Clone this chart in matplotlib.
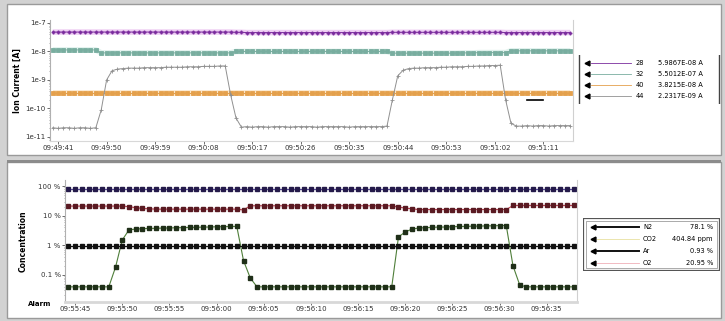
import matplotlib.pyplot as plt
from matplotlib.patches import Rectangle

# ---- top panel: ion currents (A), one point per sample ----
top_times = ["09:49:41", "09:49:50", "09:49:59", "09:50:08", "09:50:17", "09:50:26",
             "09:50:35", "09:50:44", "09:50:53", "09:51:02", "09:51:11"]

mass28 = [
    4.8e-8, 4.8e-8, 4.8e-8, 4.8e-8, 4.8e-8, 4.8e-8, 4.8e-8, 4.8e-8, 4.8e-8, 4.8e-8,
    4.8e-8, 4.8e-8, 4.8e-8, 4.8e-8, 4.8e-8, 4.8e-8, 4.8e-8, 4.8e-8, 4.8e-8, 4.8e-8,
    4.8e-8, 4.8e-8, 4.8e-8, 4.8e-8, 4.8e-8, 4.8e-8, 4.8e-8, 4.8e-8, 4.8e-8, 4.8e-8,
    4.8e-8, 4.8e-8, 4.8e-8, 4.8e-8, 4.7e-8, 4.7e-8, 4.6e-8, 4.6e-8, 4.6e-8, 4.6e-8,
    4.6e-8, 4.6e-8, 4.6e-8, 4.6e-8, 4.6e-8, 4.6e-8, 4.6e-8, 4.6e-8, 4.6e-8, 4.6e-8,
    4.6e-8, 4.6e-8, 4.6e-8, 4.6e-8, 4.6e-8, 4.6e-8, 4.6e-8, 4.6e-8, 4.6e-8, 4.6e-8,
    4.6e-8, 4.6e-8, 4.6e-8, 4.7e-8, 4.7e-8, 4.7e-8, 4.7e-8, 4.7e-8, 4.7e-8, 4.7e-8,
    4.7e-8, 4.7e-8, 4.7e-8, 4.7e-8, 4.7e-8, 4.7e-8, 4.7e-8, 4.7e-8, 4.7e-8, 4.7e-8,
    4.7e-8, 4.7e-8, 4.7e-8, 4.7e-8, 4.6e-8, 4.6e-8, 4.6e-8, 4.6e-8, 4.6e-8, 4.6e-8,
    4.6e-8, 4.6e-8, 4.6e-8, 4.6e-8, 4.6e-8, 4.6e-8, 4.6e-8]

mass32 = [
    1.13e-8, 1.13e-8, 1.13e-8, 1.13e-8, 1.13e-8, 1.13e-8, 1.13e-8, 1.13e-8, 1.13e-8, 8.9e-9,
    8.9e-9, 8.9e-9, 8.9e-9, 8.9e-9, 8.9e-9, 8.9e-9, 8.9e-9, 8.9e-9, 8.9e-9, 8.9e-9,
    8.9e-9, 8.9e-9, 8.9e-9, 8.9e-9, 8.9e-9, 8.9e-9, 8.9e-9, 8.9e-9, 8.9e-9, 8.9e-9,
    8.9e-9, 8.9e-9, 8.9e-9, 8.9e-9, 1.0e-8, 1.0e-8, 1.0e-8, 1.0e-8, 1.0e-8, 1.0e-8,
    1.0e-8, 1.0e-8, 1.0e-8, 1.0e-8, 1.0e-8, 1.0e-8, 1.0e-8, 1.0e-8, 1.0e-8, 1.0e-8,
    1.0e-8, 1.0e-8, 1.0e-8, 1.0e-8, 1.0e-8, 1.0e-8, 1.0e-8, 1.0e-8, 1.0e-8, 1.0e-8,
    1.0e-8, 1.0e-8, 1.0e-8, 8.7e-9, 8.7e-9, 8.7e-9, 8.7e-9, 8.7e-9, 8.7e-9, 8.7e-9,
    8.7e-9, 8.7e-9, 8.7e-9, 8.7e-9, 8.7e-9, 8.7e-9, 8.9e-9, 8.9e-9, 8.9e-9, 9.1e-9,
    9.1e-9, 9.1e-9, 9.1e-9, 9.1e-9, 9.1e-9, 1.05e-8, 1.05e-8, 1.05e-8, 1.05e-8, 1.05e-8,
    1.05e-8, 1.05e-8, 1.05e-8, 1.05e-8, 1.05e-8, 1.05e-8, 1.05e-8]

mass40 = [
    3.5e-10, 3.5e-10, 3.5e-10, 3.5e-10, 3.5e-10, 3.5e-10, 3.5e-10, 3.5e-10, 3.5e-10, 3.5e-10,
    3.5e-10, 3.5e-10, 3.5e-10, 3.5e-10, 3.5e-10, 3.5e-10, 3.5e-10, 3.5e-10, 3.5e-10, 3.5e-10,
    3.5e-10, 3.5e-10, 3.5e-10, 3.5e-10, 3.5e-10, 3.5e-10, 3.5e-10, 3.5e-10, 3.5e-10, 3.5e-10,
    3.5e-10, 3.5e-10, 3.5e-10, 3.5e-10, 3.5e-10, 3.5e-10, 3.5e-10, 3.5e-10, 3.5e-10, 3.5e-10,
    3.5e-10, 3.5e-10, 3.5e-10, 3.5e-10, 3.5e-10, 3.5e-10, 3.5e-10, 3.5e-10, 3.5e-10, 3.5e-10,
    3.5e-10, 3.5e-10, 3.5e-10, 3.5e-10, 3.5e-10, 3.5e-10, 3.5e-10, 3.5e-10, 3.5e-10, 3.5e-10,
    3.5e-10, 3.5e-10, 3.5e-10, 3.5e-10, 3.5e-10, 3.5e-10, 3.5e-10, 3.5e-10, 3.5e-10, 3.5e-10,
    3.5e-10, 3.5e-10, 3.5e-10, 3.5e-10, 3.5e-10, 3.5e-10, 3.5e-10, 3.5e-10, 3.5e-10, 3.5e-10,
    3.5e-10, 3.5e-10, 3.5e-10, 3.5e-10, 3.5e-10, 3.5e-10, 3.5e-10, 3.5e-10, 3.5e-10, 3.5e-10,
    3.5e-10, 3.5e-10, 3.5e-10, 3.5e-10, 3.5e-10, 3.5e-10, 3.5e-10]

mass44 = [
    2.1e-11, 2.0e-11, 2.1e-11, 2.1e-11, 2.0e-11, 2.1e-11, 2.1e-11, 2.0e-11, 2.1e-11, 8.9e-11,
    1.0e-9, 2.1e-9, 2.4e-9, 2.5e-9, 2.6e-9, 2.6e-9, 2.6e-9, 2.7e-9, 2.7e-9, 2.7e-9,
    2.7e-9, 2.8e-9, 2.8e-9, 2.8e-9, 2.8e-9, 2.9e-9, 2.9e-9, 2.9e-9, 3.0e-9, 3.0e-9,
    3.0e-9, 3.1e-9, 3.1e-9, 3.0e-10, 4.6e-11, 2.2e-11, 2.3e-11, 2.2e-11, 2.3e-11, 2.3e-11,
    2.2e-11, 2.3e-11, 2.3e-11, 2.3e-11, 2.2e-11, 2.3e-11, 2.3e-11, 2.3e-11, 2.3e-11, 2.2e-11,
    2.3e-11, 2.3e-11, 2.3e-11, 2.3e-11, 2.3e-11, 2.2e-11, 2.3e-11, 2.3e-11, 2.3e-11, 2.3e-11,
    2.3e-11, 2.3e-11, 2.4e-11, 2.0e-10, 1.4e-9, 2.2e-9, 2.5e-9, 2.6e-9, 2.6e-9, 2.7e-9,
    2.7e-9, 2.7e-9, 2.8e-9, 2.8e-9, 2.9e-9, 2.9e-9, 2.9e-9, 3.0e-9, 3.0e-9, 3.1e-9,
    3.1e-9, 3.2e-9, 3.2e-9, 3.3e-9, 2.0e-10, 3.0e-11, 2.4e-11, 2.4e-11, 2.5e-11, 2.4e-11,
    2.5e-11, 2.5e-11, 2.4e-11, 2.5e-11, 2.5e-11, 2.5e-11, 2.5e-11]

cursor_x = [88, 91]
cursor_y = [2.0e-10, 2.0e-10]

top_legend = [("28", "5.9867E-08 A"), ("32", "5.5012E-07 A"),
              ("40", "3.8215E-08 A"), ("44", "2.2317E-09 A")]

# ---- bottom panel: concentrations (%) ----
bot_times = ["09:55:45", "09:55:50", "09:55:55", "09:56:00", "09:56:05", "09:56:10",
             "09:56:15", "09:56:20", "09:56:25", "09:56:30", "09:56:35"]

n2 = [
    78.1, 78.1, 78.1, 78.1, 78.1, 78.1, 78.1, 78.1, 78.1, 78.1,
    78.1, 78.1, 78.1, 78.1, 78.1, 78.1, 78.1, 78.1, 78.1, 78.1,
    78.1, 78.1, 78.1, 78.1, 78.1, 78.1, 78.1, 78.1, 78.1, 78.1,
    78.1, 78.1, 78.1, 78.1, 78.1, 78.1, 78.1, 78.1, 78.1, 78.1,
    78.1, 78.1, 78.1, 78.1, 78.1, 78.1, 78.1, 78.1, 78.1, 78.1,
    78.1, 78.1, 78.1, 78.1, 78.1, 78.1, 78.1, 78.1, 78.1, 78.1,
    78.1, 78.1, 78.1, 78.1, 78.1, 78.1, 78.1, 78.1, 78.1, 78.1,
    78.1, 78.1, 78.1, 78.1, 78.1, 78.1]

o2 = [
    21.0, 21.0, 21.0, 21.0, 21.0, 21.0, 21.0, 21.0, 21.0, 20.0,
    18.5, 17.5, 17.0, 16.5, 16.5, 16.5, 16.5, 16.5, 16.5, 16.5,
    16.5, 16.5, 16.5, 16.5, 16.5, 16.5, 15.5, 21.5, 21.5, 21.5,
    21.5, 21.5, 21.5, 21.5, 21.5, 21.5, 21.5, 21.5, 21.5, 21.5,
    21.5, 21.5, 21.5, 21.5, 21.5, 21.5, 21.5, 21.5, 21.5, 19.5,
    18.0, 17.0, 16.0, 16.0, 16.0, 16.0, 16.0, 16.0, 16.0, 16.0,
    16.0, 16.0, 16.0, 16.0, 16.0, 16.0, 22.0, 22.0, 22.0, 22.0,
    22.0, 22.0, 22.0, 22.0, 22.0, 22.0]

co2 = [
    0.039, 0.039, 0.039, 0.039, 0.039, 0.039, 0.039, 0.18, 1.5, 3.3,
    3.5, 3.6, 3.7, 3.7, 3.8, 3.8, 3.9, 3.9, 4.0, 4.0,
    4.1, 4.1, 4.2, 4.2, 4.3, 4.3, 0.3, 0.078, 0.039, 0.039,
    0.039, 0.039, 0.039, 0.039, 0.039, 0.039, 0.039, 0.039, 0.039, 0.039,
    0.039, 0.039, 0.039, 0.039, 0.039, 0.039, 0.039, 0.039, 0.039, 1.9,
    2.8, 3.5, 3.8, 3.9, 4.0, 4.1, 4.1, 4.2, 4.3, 4.3,
    4.4, 4.4, 4.5, 4.5, 4.6, 4.6, 0.2, 0.045, 0.039, 0.039,
    0.039, 0.039, 0.039, 0.039, 0.039, 0.039]

ar = [
    0.93, 0.93, 0.93, 0.93, 0.93, 0.93, 0.93, 0.93, 0.93, 0.93,
    0.93, 0.93, 0.93, 0.93, 0.93, 0.93, 0.93, 0.93, 0.93, 0.93,
    0.93, 0.93, 0.93, 0.93, 0.93, 0.93, 0.93, 0.93, 0.93, 0.93,
    0.93, 0.93, 0.93, 0.93, 0.93, 0.93, 0.93, 0.93, 0.93, 0.93,
    0.93, 0.93, 0.93, 0.93, 0.93, 0.93, 0.93, 0.93, 0.93, 0.93,
    0.93, 0.93, 0.93, 0.93, 0.93, 0.93, 0.93, 0.93, 0.93, 0.93,
    0.93, 0.93, 0.93, 0.93, 0.93, 0.93, 0.93, 0.93, 0.93, 0.93,
    0.93, 0.93, 0.93, 0.93, 0.93, 0.93]

bot_legend = [("N2", "78.1 %"), ("CO2", "404.84 ppm"), ("Ar", "0.93 %"), ("O2", "20.95 %")]

W, H = 725, 321


def fbox(x0, y0, x1, y1):
    # pixel box (top-left origin) -> figure fraction [l, b, w, h]
    return [x0 / W, 1 - y1 / H, (x1 - x0) / W, (y1 - y0) / H]


fig = plt.figure(figsize=(W / 100, H / 100), dpi=100, facecolor='#d2d2d2')
for y0, y1 in [(4, 155), (162, 318)]:
    l, b, w, h = fbox(7, y0, 721, y1)
    fig.add_artist(Rectangle((l, b), w, h, transform=fig.transFigure, zorder=-10,
                             facecolor='white', edgecolor='#9a9a9a', lw=1.0))
fig.add_artist(Rectangle((7 / W, 1 - 163 / H), 714 / W, 3 / H, transform=fig.transFigure,
                         zorder=-9, facecolor='#8c8c8c', edgecolor='none'))

# ---- top chart ----
ax1 = fig.add_axes(fbox(50, 20, 573, 141))
xt = list(range(len(mass28)))
series_top = [(mass28, '#7b2d9e', '#efd0f4', 'P'), (mass32, '#78ad9f', '#dff1ec', 's'),
              (mass40, '#e4a04c', '#fce5c6', 's'), (mass44, '#909090', None, '+')]
for vals, c, band, mk in series_top:
    if band:
        ax1.plot(xt, vals, color=band, lw=4, solid_capstyle='butt', zorder=1)
    ax1.plot(xt, vals, color=c, lw=0.7, marker=mk, ms=2.2, mew=0.6, zorder=2)
ax1.plot(cursor_x, cursor_y, color='black', lw=1.2)
ax1.set_yscale('log')
ax1.set_ylim(7.2e-12, 1.27e-7)
ax1.set_xlim(-0.5, len(xt) - 0.5)
ax1.set_yticks([1e-7, 1e-8, 1e-9, 1e-10, 1e-11])
ax1.set_yticklabels(['1e-7', '1e-8', '1e-9', '1e-10', '1e-11'])
ax1.set_xticks(range(1, len(xt), 9))
ax1.set_xticklabels(top_times)
ax1.set_ylabel('Ion Current [A]', fontsize=5.5, fontweight='bold', labelpad=3)

# ---- bottom chart ----
ax2 = fig.add_axes(fbox(65, 180, 577, 302))
xb = list(range(len(n2)))
series_bot = [(n2, '#5a4aa0', '#241a4a'), (o2, '#c04050', '#5a1a22'),
              (co2, '#4f7f3a', '#1f2f18'), (ar, '#111111', '#111111')]
for vals, c, mc in series_bot:
    ax2.plot(xb, vals, color=c, lw=0.8, marker='s', ms=2.3, mfc=mc, mec=mc, zorder=2)
ax2.set_yscale('log')
ax2.set_ylim(0.012, 160)
ax2.set_xlim(-0.5, len(xb) - 0.5)
ax2.set_yticks([100, 10, 1, 0.1])
ax2.set_yticklabels(['100 %', '10 %', '1 %', '0.1 %'])
ax2.set_xticks(range(1, len(xb), 7))
ax2.set_xticklabels(bot_times)
ax2.set_ylabel('Concentration', fontsize=5.5, fontweight='bold', labelpad=8)
fig.text(28 / W, 1 - 304 / H, 'Alarm', fontsize=5, va='center', fontweight='bold')

for ax in (ax1, ax2):
    ax.spines['top'].set_visible(False)
    ax.spines['left'].set_color('#b0b0b0')
    ax.spines['right'].set_color('#d0d0d0')
    ax.spines['bottom'].set_color('#d8d8d8')
    ax.tick_params(labelsize=5, length=2, width=0.6, color='#555555', labelcolor='#333333', pad=1)
    ax.tick_params(which='minor', length=1, color='#999999')
ax2.spines['bottom'].set_linewidth(2)

# ---- top legend (bracketed) ----
lg1 = fig.add_axes(fbox(578, 55, 721, 104))
lg1.set_xlim(0, 143)
lg1.set_ylim(49, 0)
lg1.axis('off')
lg1.plot([1, 1], [0, 49], color='#444444', lw=1)
lg1.plot([141, 141], [0, 49], color='#444444', lw=1)
for i, (name, val) in enumerate(top_legend):
    yy = 8 + i * 11
    lg1.plot([9], [yy], marker='<', color='black', ms=3.5)
    lg1.plot([13, 53], [yy, yy], color=series_top[i][1], lw=0.6)
    lg1.text(58, yy, name, fontsize=4.8, va='center')
    lg1.text(80, yy, val, fontsize=4.8, va='center')

# ---- bottom legend (boxed) ----
lg2 = fig.add_axes(fbox(583, 218, 720, 271))
lg2.set_xlim(0, 137)
lg2.set_ylim(53, 0)
lg2.axis('off')
lg2.add_patch(Rectangle((0, 0), 137, 53, facecolor='white', edgecolor='#555555', lw=1.6))
lg2.add_patch(Rectangle((3, 3), 131, 47, facecolor='none', edgecolor='#888888', lw=0.5))
leg_lines = [('#111111', 1.4), ('#e8e0a0', 0.6), ('#111111', 1.4), ('#f0b0b8', 0.6)]
for i, (name, val) in enumerate(bot_legend):
    yy = 9 + i * 12
    lg2.plot([10], [yy], marker='<', color='black', ms=3.5)
    lg2.plot([14, 56], [yy, yy], color=leg_lines[i][0], lw=leg_lines[i][1])
    lg2.text(60, yy, name, fontsize=4.8, va='center')
    lg2.text(130, yy, val, fontsize=4.8, va='center', ha='right')

fig.savefig('out.png', dpi=100, facecolor=fig.get_facecolor())
